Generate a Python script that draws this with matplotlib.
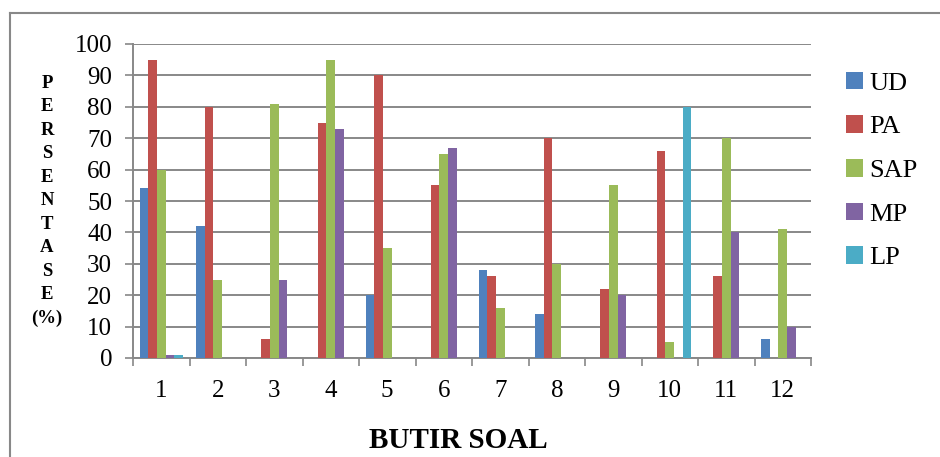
import numpy as np
import matplotlib
matplotlib.use('Agg')
import matplotlib.pyplot as plt
from matplotlib.lines import Line2D

plt.rcParams['font.family'] = 'serif'
plt.rcParams['font.serif'] = ['Liberation Serif', 'Times New Roman', 'DejaVu Serif']

butir = ['1', '2', '3', '4', '5', '6', '7', '8', '9', '10', '11', '12']
ud = [54, 42, 0, 0, 20, 0, 28, 14, 0, 0, 0, 6]
pa = [95, 80, 6, 75, 90, 55, 26, 70, 22, 66, 26, 0]
sap = [60, 25, 81, 95, 35, 65, 16, 30, 55, 5, 70, 41]
mp = [1, 0, 25, 73, 0, 67, 0, 0, 20, 0, 40, 10]
lp = [1, 0, 0, 0, 0, 0, 0, 0, 0, 80, 0, 0]

series = [('UD', ud, '#4F81BD'), ('PA', pa, '#C0504D'), ('SAP', sap, '#9BBB59'),
          ('MP', mp, '#8064A2'), ('LP', lp, '#4BACC6')]

fig = plt.figure(figsize=(9.4, 4.57), dpi=100)
ax = fig.add_axes([133/940, 1-358/457, 678/940, 314/457])

x = np.arange(1, len(butir) + 1)
w = 0.152
for i, (name, vals, col) in enumerate(series):
    ax.bar(x + (i - 2) * w, vals, width=w, color=col, label=name, linewidth=0, zorder=3)

grid_col = '#888888'
ax.set_ylim(0, 100)
ax.set_xlim(0.5, len(butir) + 0.5)
ax.set_yticks(range(0, 101, 10))
ax.yaxis.grid(True, color=grid_col, linewidth=1.4, zorder=0)
ax.set_xticks(x)
ax.set_xticklabels(butir)
ax.set_xticks(np.arange(0.5, len(butir) + 1, 1), minor=True)
ax.tick_params(axis='x', which='major', length=0, pad=16, labelsize=18)
ax.tick_params(axis='x', which='minor', length=6, width=1.2, color=grid_col, direction='out')
ax.tick_params(axis='y', length=6, width=1.2, color=grid_col, pad=9, labelsize=18)
for s in ['top', 'right']:
    ax.spines[s].set_visible(False)
for s in ['left', 'bottom']:
    ax.spines[s].set_color(grid_col)
    ax.spines[s].set_linewidth(1.4)

fig.text(458/940, 1-440/457, 'BUTIR SOAL', fontsize=21, fontweight='bold',
         ha='center', va='center')
fig.text(47/940, 1-201/457, 'P\nE\nR\nS\nE\nN\nT\nA\nS\nE\n(%)', fontsize=13.5,
         fontweight='bold', ha='center', va='center', linespacing=1.5)

ax.legend(loc='upper left', bbox_to_anchor=(822/940, 1-48/457), bbox_transform=fig.transFigure,
          frameon=False, fontsize=19, handlelength=0.65, handleheight=0.65,
          handletextpad=0.25, labelspacing=0.78)

fig.add_artist(Line2D([10/940, 10/940], [0, 1-13/457], color=grid_col, linewidth=1.5))
fig.add_artist(Line2D([10/940, 1], [1-13/457, 1-13/457], color=grid_col, linewidth=1.5))

fig.savefig('out.png', dpi=100)
